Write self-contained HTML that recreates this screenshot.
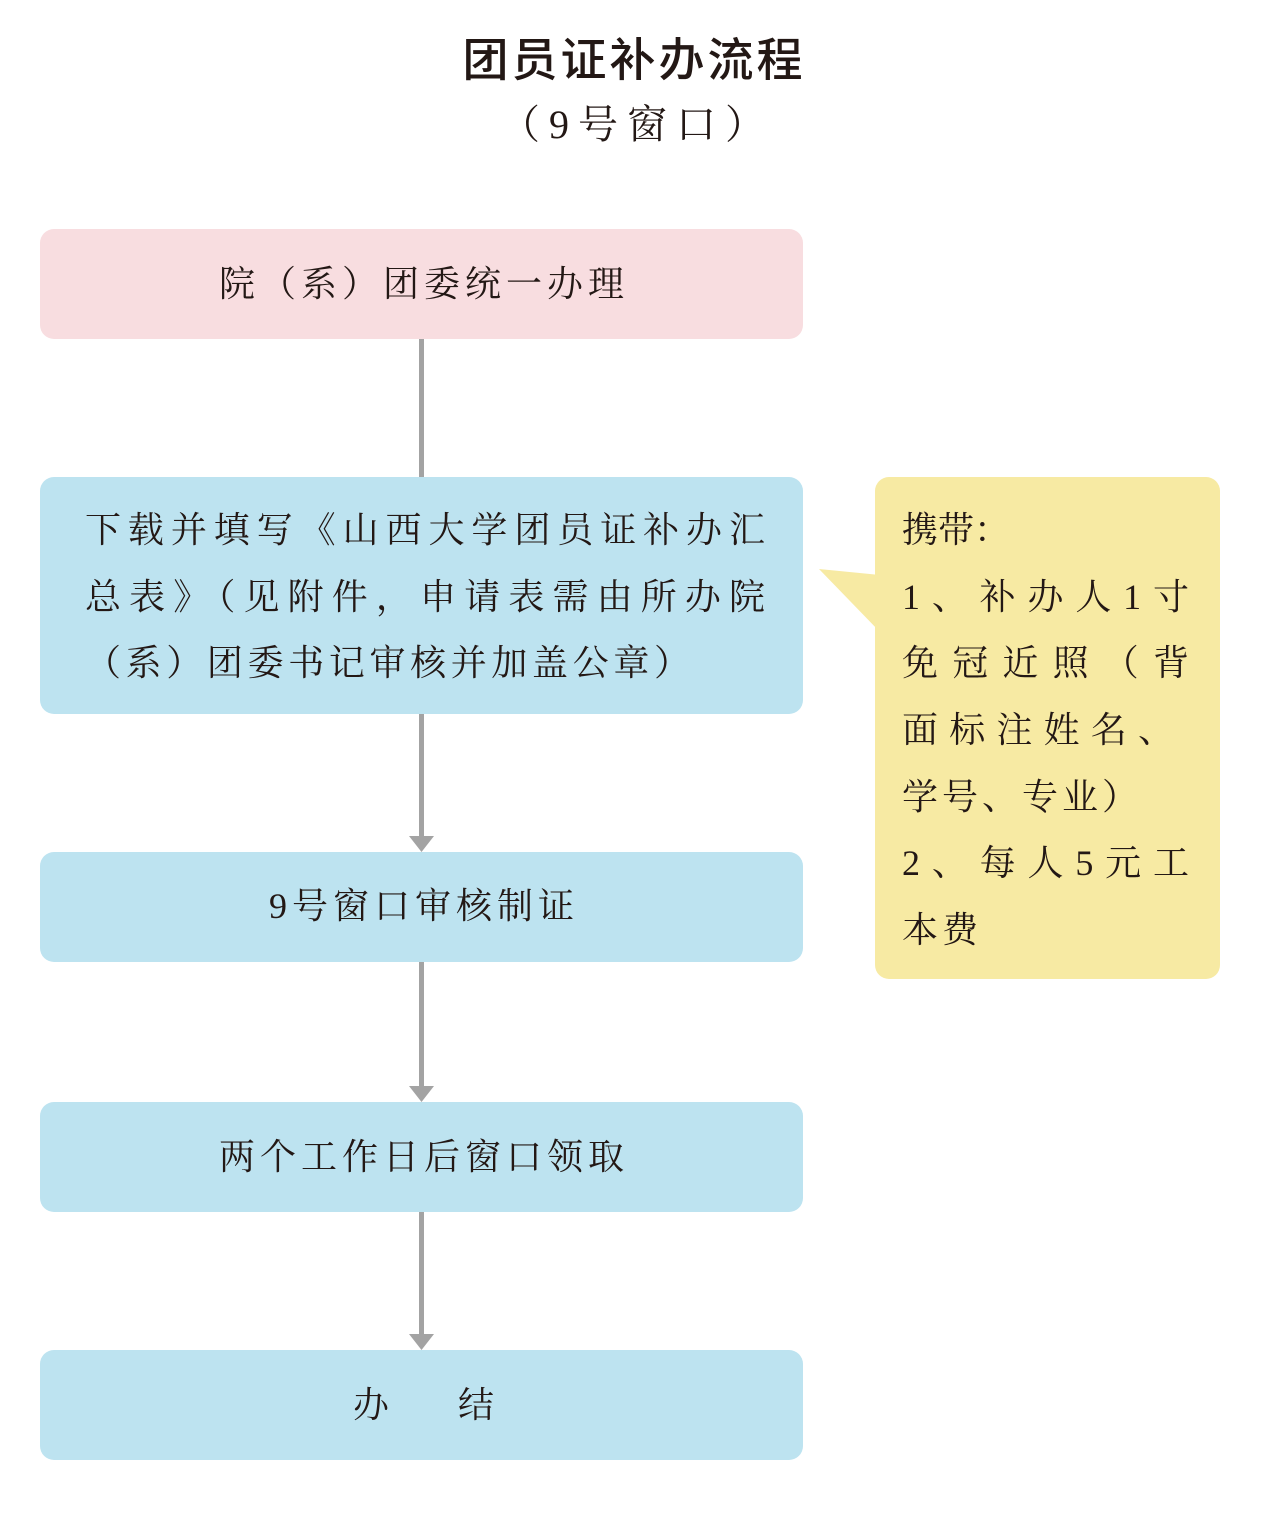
<!DOCTYPE html>
<html><head><meta charset="utf-8"><style>
body{margin:0;width:1265px;height:1513px;background:#fff;position:relative;overflow:hidden;font-family:"Liberation Serif","Noto Serif CJK SC",serif;color:#231815}
.t{position:absolute;white-space:nowrap}
.box{position:absolute;left:40px;width:763px;border-radius:14px;background:#bde3f0}
.c{position:absolute;left:40px;width:763px;text-align:center;font-size:36px;line-height:40px;letter-spacing:5px;text-indent:5px}
.j{position:absolute;font-size:36px;line-height:40px;text-align:justify;text-align-last:justify;white-space:nowrap}
.v{position:absolute;left:419px;width:5px;background:#a3a3a3}
</style></head><body>
<div class="t" style="left:0;width:1265px;text-align:center;top:24px;font-size:46px;font-family:'Liberation Sans','Noto Sans CJK SC',sans-serif;font-weight:500;letter-spacing:3px;text-indent:3px">团员证补办流程</div>
<div class="t" style="left:0;width:1265px;text-align:center;top:102px;font-size:40px;line-height:46px;letter-spacing:9px;text-indent:9px">（9号窗口）</div>

<div class="box" style="top:229px;height:110px;background:#f8dde0"></div>
<div class="c" style="top:264px">院（系）团委统一办理</div>

<div class="v" style="top:339px;height:138px"></div>

<div class="box" style="top:477px;height:237px"></div>
<div class="j" style="left:85px;width:680px;top:510px">下载并填写《山西大学团员证补办汇</div>
<div class="j" style="left:85px;width:680px;top:577px">总表》（见附件，申请表需由所办院</div>
<div class="j" style="left:85px;width:605px;top:643px">（系）团委书记审核并加盖公章）</div>

<div class="v" style="top:714px;height:126px"></div>
<svg style="position:absolute;left:409px;top:836px" width="25" height="16"><polygon points="0,0 25,0 12.5,16" fill="#a3a3a3"/></svg>

<div class="box" style="top:852px;height:110px"></div>
<div class="c" style="top:886px">9号窗口审核制证</div>

<div class="v" style="top:962px;height:126px"></div>
<svg style="position:absolute;left:409px;top:1086px" width="25" height="16"><polygon points="0,0 25,0 12.5,16" fill="#a3a3a3"/></svg>

<div class="box" style="top:1102px;height:110px"></div>
<div class="c" style="top:1137px">两个工作日后窗口领取</div>

<div class="v" style="top:1212px;height:126px"></div>
<svg style="position:absolute;left:409px;top:1334px" width="25" height="16"><polygon points="0,0 25,0 12.5,16" fill="#a3a3a3"/></svg>

<div class="box" style="top:1350px;height:110px"></div>
<div class="t" style="left:353px;top:1385px;font-size:36px;line-height:40px">办</div>
<div class="t" style="left:458px;top:1385px;font-size:36px;line-height:40px">结</div>

<svg style="position:absolute;left:815px;top:560px" width="70" height="80"><polygon points="4,9 65,15 65,72" fill="#f7eaa3"/></svg>
<div style="position:absolute;left:875px;top:477px;width:345px;height:502px;border-radius:14px;background:#f7eaa3"></div>
<div class="t" style="left:902px;top:510px;font-size:36px;line-height:40px">携带：</div>
<div class="j" style="left:902px;width:287px;top:577px">1、补办人1寸</div>
<div class="j" style="left:902px;width:287px;top:643px">免冠近照（背</div>
<div class="j" style="left:902px;width:272px;top:710px">面标注姓名、</div>
<div class="t" style="left:902px;top:777px;font-size:36px;line-height:40px;letter-spacing:4px">学号、专业）</div>
<div class="j" style="left:902px;width:287px;top:843px">2、每人5元工</div>
<div class="t" style="left:902px;top:910px;font-size:36px;line-height:40px;letter-spacing:4px">本费</div>
</body></html>
